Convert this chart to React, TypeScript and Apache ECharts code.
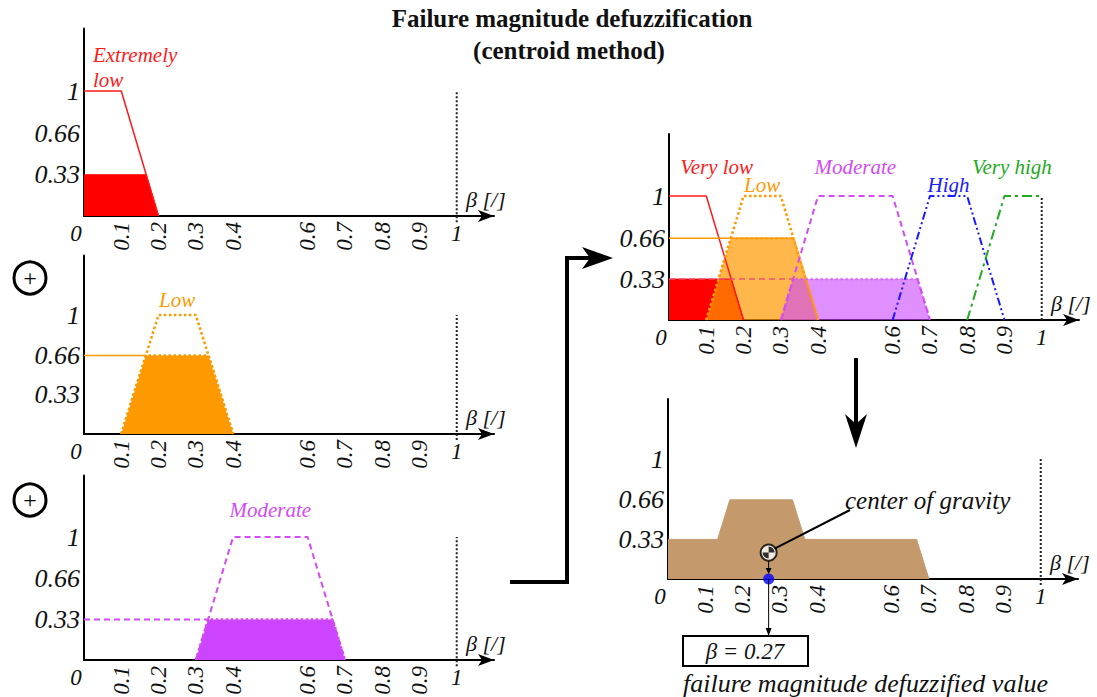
import React, { useEffect, useRef } from "react";
import * as echarts from "echarts";

// ---------- data ----------
const titleLines = ["Failure magnitude defuzzification", "(centroid method)"];
const termNames = ["Very low", "Low", "Moderate", "High", "Very high"];
const firstTermName = "Extremely\nlow";
const xTicks = [0.1, 0.2, 0.3, 0.4, 0.6, 0.7, 0.8, 0.9];
const xEnds = [0, 1];
const yTicks = [0.33, 0.66, 1];
const axisName = "β [/]";

const veryLow = [[0, 1], [0.1, 1], [0.2, 0]];
const low = [[0.1, 0], [0.2, 1], [0.3, 1], [0.4, 0]];
const moderate = [[0.3, 0], [0.4, 1], [0.6, 1], [0.7, 0]];
const high = [[0.6, 0], [0.7, 1], [0.8, 1], [0.9, 0]];
const veryHigh = [[0.8, 0], [0.9, 1], [1, 1]];
const universeEnd = [[1, -0.05], [1, 1]];
const universeEndTop = [[1, 0], [1, 1]];

const veryLowClipped = [[0, 0.33], [0.167, 0.33], [0.2, 0]];
const lowClipped = [[0.1, 0], [0.166, 0.66], [0.334, 0.66], [0.4, 0]];
const moderateClipped = [[0.3, 0], [0.333, 0.33], [0.667, 0.33], [0.7, 0]];
const lowCutShort = [[0, 0.66], [0.166, 0.66]];
const lowCutLong = [[0, 0.66], [0.334, 0.66]];
const moderateCut = [[0, 0.33], [0.333, 0.33]];
const aggregated = [
  [0, 0.33], [0.133, 0.33], [0.166, 0.66], [0.334, 0.66],
  [0.367, 0.33], [0.667, 0.33], [0.7, 0],
];
const centroid = [0.27, 0.22];

// ---------- style ----------
const SERIF = "Liberation Serif";
const RED = "#ff1a1a";
const ORANGE = "#ff9900";
const MAGENTA = "#d24bf5";
const BLUE = "#1a1aff";
const GREEN = "#22aa22";
const BROWN = "#c49a6c";

const panels = [
  { left: 84, top: 28.5, height: 187.5 },
  { left: 84, top: 255.5, height: 178.5 },
  { left: 84, top: 475.5, height: 184.5 },
  { left: 669, top: 134, height: 186 },
  { left: 668, top: 399, height: 180 },
];
const GW = 410;

function buildOption() {
  const grid = panels.map((p) => ({
    left: p.left, top: p.top, width: GW, height: p.height,
    outerBoundsMode: "none", containLabel: false,
  }));
  const xAxis: any[] = [];
  const yAxis: any[] = [];
  panels.forEach((_, i) => {
    xAxis.push({
      gridIndex: i, type: "value", min: 0, max: 1.1, position: "bottom",
      axisLine: {
        show: true, onZero: false,
        lineStyle: { color: "#000", width: 2 },
        symbol: ["none", "arrow"], symbolSize: [9, 16],
      },
      axisTick: { show: false },
      splitLine: { show: false },
      axisLabel: {
        customValues: xTicks, rotate: 90, margin: 6,
        fontFamily: SERIF, fontStyle: "italic", fontSize: 23, color: "#111",
        formatter: (v: number) => String(v),
      },
      name: axisName, nameLocation: "end", nameGap: -28,
      nameTextStyle: {
        fontFamily: SERIF, fontStyle: "italic", fontSize: 22, color: "#111",
        align: "left", verticalAlign: "bottom", padding: [0, 0, 6, 0],
      },
    });
    xAxis.push({
      gridIndex: i, type: "value", min: 0, max: 1.1, position: "bottom",
      axisLine: { show: false }, axisTick: { show: false }, splitLine: { show: false },
      axisLabel: {
        customValues: xEnds, margin: 6,
        fontFamily: SERIF, fontStyle: "italic", fontSize: 23, color: "#111",
        formatter: (v: number) => (v === 0 ? "{z|0}" : "{o|" + v + "}"),
        rich: {
          z: { padding: [0, 16, 0, 0], fontFamily: SERIF, fontStyle: "italic", fontSize: 23, color: "#111" },
          o: { fontFamily: SERIF, fontStyle: "italic", fontSize: 23, color: "#111" },
        },
      },
    });
    yAxis.push({
      gridIndex: i, type: "value", min: 0, max: 1.5,
      axisLine: { show: true, lineStyle: { color: "#000", width: 2 } },
      axisTick: { show: false }, splitLine: { show: false },
      axisLabel: {
        customValues: yTicks, margin: 4,
        fontFamily: SERIF, fontStyle: "italic", fontSize: 26, color: "#111",
      },
    });
  });

  const ls = (i: number, data: number[][], color: string, dash: any, width: number, fill?: string, z = 3) => ({
    type: "line", xAxisIndex: 2 * i, yAxisIndex: i, data, symbol: "none",
    silent: true, clip: false, z,
    lineStyle: { color, type: dash, width },
    areaStyle: fill ? { color: fill, opacity: 1 } : undefined,
  });

  const series: any[] = [
    // panel 1
    ls(0, veryLowClipped, "#ff0000", "solid", 1, "#ff0000", 1),
    ls(0, veryLow, RED, "solid", 1.5),
    ls(0, universeEnd, "#222", "dotted", 2),
    // panel 2
    ls(1, lowClipped, ORANGE, "dotted", 2.5, ORANGE, 1),
    ls(1, low, ORANGE, "dotted", 2.5),
    ls(1, lowCutShort, ORANGE, "solid", 1.5),
    ls(1, universeEnd, "#222", "dotted", 2),
    // panel 3
    ls(2, moderateClipped, MAGENTA, "dotted", 2.5, "#cc44ff", 1),
    ls(2, moderate, MAGENTA, [6, 4], 2),
    ls(2, moderateCut, MAGENTA, [6, 4], 2),
    ls(2, universeEnd, "#222", "dotted", 2),
    // panel 4
    ls(3, veryLowClipped, "#ff0000", "solid", 1, "#ff0000", 1),
    ls(3, lowClipped, "rgba(255,153,0,0.7)", "dotted", 2.5, "rgba(255,153,0,0.7)", 1),
    ls(3, moderateClipped, "rgba(204,68,255,0.6)", "dotted", 2.5, "rgba(204,68,255,0.6)", 1),
    ls(3, veryLow, RED, "solid", 1.5),
    ls(3, low, ORANGE, "dotted", 2.5),
    ls(3, moderate, MAGENTA, [6, 4], 2),
    ls(3, high, BLUE, [8, 3, 2, 3, 2, 3], 2),
    ls(3, veryHigh, GREEN, [10, 4, 3, 4], 2),
    ls(3, lowCutLong, ORANGE, "solid", 1.5),
    ls(3, moderateCut, "rgba(230,80,120,0.9)", [6, 4], 1.5),
    ls(3, universeEndTop, "#222", "dotted", 2),
    // panel 5
    ls(4, aggregated, BROWN, "solid", 1, BROWN, 1),
    ls(4, universeEnd, "#222", "dotted", 2),
    {
      type: "scatter", xAxisIndex: 8, yAxisIndex: 4, data: [[centroid[0], 0]],
      symbol: "circle", symbolSize: 11, itemStyle: { color: "#0000ff" }, z: 6, silent: true,
    },
    {
      type: "scatter", xAxisIndex: 8, yAxisIndex: 4, data: [centroid],
      symbol: "circle", symbolSize: 16, itemStyle: { color: "#fff", borderColor: "#000", borderWidth: 2 }, z: 6, silent: true,
    },
    {
      type: "scatter", xAxisIndex: 8, yAxisIndex: 4, data: [centroid],
      symbol: "path://M0,0 L0,-10 A10,10 0 0 1 10,0 Z M0,0 L0,10 A10,10 0 0 1 -10,0 Z",
      symbolSize: 12, itemStyle: { color: "#000" }, z: 7, silent: true,
    },
  ];

  return {
    animation: false,
    backgroundColor: "#fff",
    grid, xAxis, yAxis, series,
  };
}

function txt(x: number, y: number, text: string, color: string, size: number, align = "center", italic = true, bold = false, lineHeight?: number) {
  return {
    type: "text", x, y, z: 50,
    style: {
      text, fill: color, fontSize: size, fontFamily: SERIF,
      fontStyle: italic ? "italic" : "normal", fontWeight: bold ? "bold" : "normal",
      align, verticalAlign: "middle", lineHeight,
    },
  };
}

function buildGraphics(chart: any) {
  const px = (i: number, pt: number[]) => chart.convertToPixel({ xAxisIndex: 2 * i, yAxisIndex: i }, pt);
  const g: any[] = [];
  // title
  g.push(txt(572, 18, titleLines[0], "#111", 25, "center", false, true));
  g.push(txt(569, 50, titleLines[1], "#111", 25, "center", false, true));

  // term labels
  const labels: [number, string, number[], string, string][] = [
    [0, firstTermName, [0.024, 1.19], RED, "left"],
    [1, termNames[1], [0.25, 1.13], ORANGE, "center"],
    [2, termNames[2], [0.5, 1.22], MAGENTA, "center"],
    [3, termNames[0], [0.03, 1.23], RED, "left"],
    [3, termNames[1], [0.25, 1.09], ORANGE, "center"],
    [3, termNames[2], [0.5, 1.23], MAGENTA, "center"],
    [3, termNames[3], [0.75, 1.09], BLUE, "center"],
    [3, termNames[4], [0.92, 1.23], GREEN, "center"],
  ];
  labels.forEach(([i, t, at, c, al]) => {
    const p = px(i, at);
    g.push(txt(p[0], p[1], t, c, 21, al, true, false, 25));
  });

  // circled plus signs
  [278, 500].forEach((cy) => {
    g.push({ type: "circle", shape: { cx: 30, cy, r: 16 }, style: { fill: "none", stroke: "#000", lineWidth: 3 }, z: 50 });
    g.push(txt(30, cy, "+", "#000", 24, "center", false));
  });

  // big arrows
  g.push({
    type: "polyline", z: 50,
    shape: { points: [[510, 582], [567, 582], [567, 258], [592, 258]] },
    style: { stroke: "#000", lineWidth: 4, fill: "none" },
  });
  g.push({
    type: "polygon", z: 50,
    shape: { points: [[613, 258], [582, 247], [590, 258], [582, 269]] },
    style: { fill: "#000" },
  });
  g.push({ type: "line", z: 50, shape: { x1: 856, y1: 358, x2: 856, y2: 425 }, style: { stroke: "#000", lineWidth: 4 } });
  g.push({
    type: "polygon", z: 50,
    shape: { points: [[856, 448], [845, 414], [856, 424], [867, 414]] },
    style: { fill: "#000" },
  });

  // centroid annotations
  const c = px(4, centroid);
  const b = px(4, [centroid[0], 0]);
  g.push({ type: "line", z: 50, shape: { x1: c[0] + 6, y1: c[1] - 4, x2: 850, y2: 510 }, style: { stroke: "#000", lineWidth: 2 } });
  g.push(txt(845, 500, "center of gravity", "#111", 25, "left"));
  g.push({ type: "line", z: 50, shape: { x1: c[0], y1: c[1] + 8, x2: c[0], y2: b[1] - 8 }, style: { stroke: "#000", lineWidth: 1 } });
  g.push({ type: "polygon", z: 50, shape: { points: [[c[0], b[1] - 5], [c[0] - 3, b[1] - 11], [c[0] + 3, b[1] - 11]] }, style: { fill: "#000" } });
  const boxLeft = 683;
  const boxTop = 636;
  g.push({ type: "line", z: 50, shape: { x1: b[0], y1: b[1], x2: b[0], y2: boxTop - 5 }, style: { stroke: "#000", lineWidth: 1 } });
  g.push({ type: "polygon", z: 50, shape: { points: [[b[0], boxTop], [b[0] - 3, boxTop - 8], [b[0] + 3, boxTop - 8]] }, style: { fill: "#000" } });
  g.push({ type: "rect", z: 49, shape: { x: boxLeft, y: boxTop, width: 125, height: 30 }, style: { fill: "#fff", stroke: "#000", lineWidth: 2 } });
  g.push(txt(boxLeft + 62, boxTop + 15, "β = " + centroid[0], "#111", 23, "center"));
  g.push(txt(boxLeft, boxTop + 47, "failure magnitude defuzzified value", "#111", 26, "left"));
  return g;
}

export default function App() {
  const ref = useRef<HTMLDivElement>(null);
  useEffect(() => {
    const chart = echarts.init(ref.current!, null, { renderer: "svg" });
    chart.setOption(buildOption() as any);
    chart.setOption({ graphic: buildGraphics(chart) } as any);
    return () => chart.dispose();
  }, []);
  return (
    <div
      ref={ref}
      style={{ position: "absolute", left: 0, top: 0, width: 1097, height: 697, background: "#fff" }}
    />
  );
}
